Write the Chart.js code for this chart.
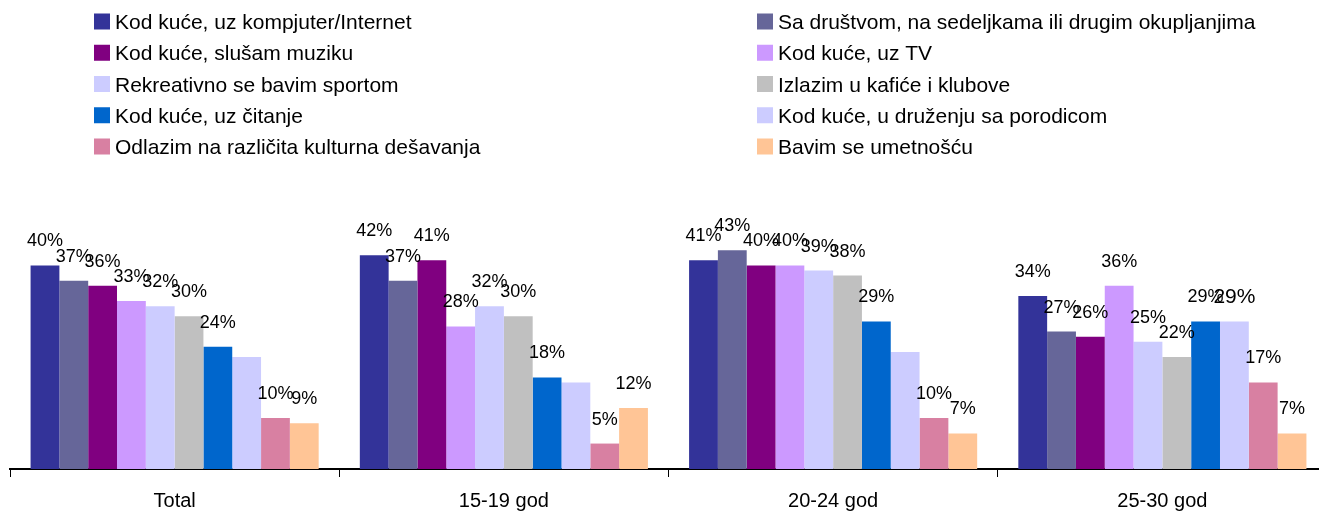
<!DOCTYPE html>
<html>
<head>
<meta charset="utf-8">
<script src="https://cdn.jsdelivr.net/npm/chart.js@4/dist/chart.umd.min.js"></script>
<style>
  html, body { margin: 0; padding: 0; background: #fff; overflow: hidden; }
  #wrap { position: relative; width: 1327px; height: 511px; }
</style>
</head>
<body>
<div id="wrap"><canvas id="chart" width="1327" height="511"></canvas></div>
<script>
// Grupe (starosne kategorije)
const categories = ["Total", "15-19 god", "20-24 god", "25-30 god"];

// Vrednosti po aktivnostima (%)
const kompjuter = [40, 42, 41, 34];
const drustvo = [37, 37, 43, 27];
const muzika = [36, 41, 40, 26];
const tv = [33, 28, 40, 36];
const sport = [32, 32, 39, 25];
const kafici = [30, 30, 38, 22];
const citanje = [24, 18, 29, 29];
const porodica = [22, 17, 23, 29];
const kultura = [10, 5, 10, 17];
const umetnost = [9, 12, 7, 7];

// Natpis za "porodicom" vidljiv samo u poslednjoj grupi
const porodicaLabelShown = [false, false, false, true];

const seriesNames = [
  "Kod kuće, uz kompjuter/Internet",
  "Sa društvom, na sedeljkama ili drugim okupljanjima",
  "Kod kuće, slušam muziku",
  "Kod kuće, uz TV",
  "Rekreativno se bavim sportom",
  "Izlazim u kafiće i klubove",
  "Kod kuće, uz čitanje",
  "Kod kuće, u druženju sa porodicom",
  "Odlazim na različita kulturna dešavanja",
  "Bavim se umetnošću",
];
const seriesValues = [kompjuter, drustvo, muzika, tv, sport, kafici, citanje, porodica, kultura, umetnost];
const seriesColors = [
  "#333399", "#666699", "#800080", "#CC99FF", "#CCCCFF",
  "#C0C0C0", "#0066CC", "#CCCCFF", "#D880A2", "#FFC596",
];

const FONT = "'Liberation Sans', Arial, sans-serif";

// Legenda u dve kolone, crtana na platnu
const legendPlugin = {
  id: "twoColLegend",
  afterDraw(chart) {
    const ctx = chart.ctx;
    ctx.save();
    ctx.font = "21px " + FONT;
    ctx.textBaseline = "alphabetic";
    ctx.textAlign = "left";
    chart.data.datasets.forEach((ds, i) => {
      const col = i % 2;
      const row = Math.floor(i / 2);
      const bx = col === 0 ? 94 : 757;
      const cy = 21.5 + row * 31.25;
      ctx.fillStyle = ds.backgroundColor;
      ctx.fillRect(bx, cy - 8, 16, 16);
      ctx.fillStyle = "#000";
      ctx.fillText(ds.label, bx + 21, cy + 7.5);
    });
    ctx.restore();
  },
};

// Procenti iznad stubova
const valueLabels = {
  id: "valueLabels",
  afterDatasetsDraw(chart) {
    const ctx = chart.ctx;
    ctx.save();
    ctx.fillStyle = "#000";
    ctx.textAlign = "center";
    ctx.textBaseline = "middle";
    chart.data.datasets.forEach((ds, di) => {
      const meta = chart.getDatasetMeta(di);
      meta.data.forEach((bar, i) => {
        let size = 18;
        if (di === 7) {
          if (!porodicaLabelShown[i]) return;
          size = 21;
        }
        ctx.font = size + "px " + FONT;
        ctx.fillText(ds.data[i] + "%", bar.x, bar.y - 24);
      });
    });
    ctx.restore();
  },
};

const datasets = seriesNames.map((name, i) => ({
  label: name,
  data: seriesValues[i],
  backgroundColor: seriesColors[i],
  borderWidth: 0,
  categoryPercentage: 0.875,
  barPercentage: 1.0,
}));

new Chart(document.getElementById("chart"), {
  type: "bar",
  data: { labels: categories, datasets: datasets },
  options: {
    responsive: false,
    animation: false,
    devicePixelRatio: 1,
    layout: { padding: { top: 240, left: 10, right: 0, bottom: 0 } },
    plugins: {
      legend: { display: false },
      tooltip: { enabled: false },
    },
    scales: {
      x: {
        afterFit(scale) { scale.height = 42; },
        grid: {
          display: true,
          drawOnChartArea: false,
          drawTicks: true,
          tickLength: 8,
          color: "#000",
          lineWidth: 1,
        },
        border: { display: true, color: "#000", width: 2 },
        ticks: {
          color: "#000",
          padding: 12,
          font: { family: FONT, size: 20 },
        },
      },
      y: {
        display: false,
        min: 0,
        max: 45,
      },
    },
  },
  plugins: [legendPlugin, valueLabels],
});
</script>
</body>
</html>
